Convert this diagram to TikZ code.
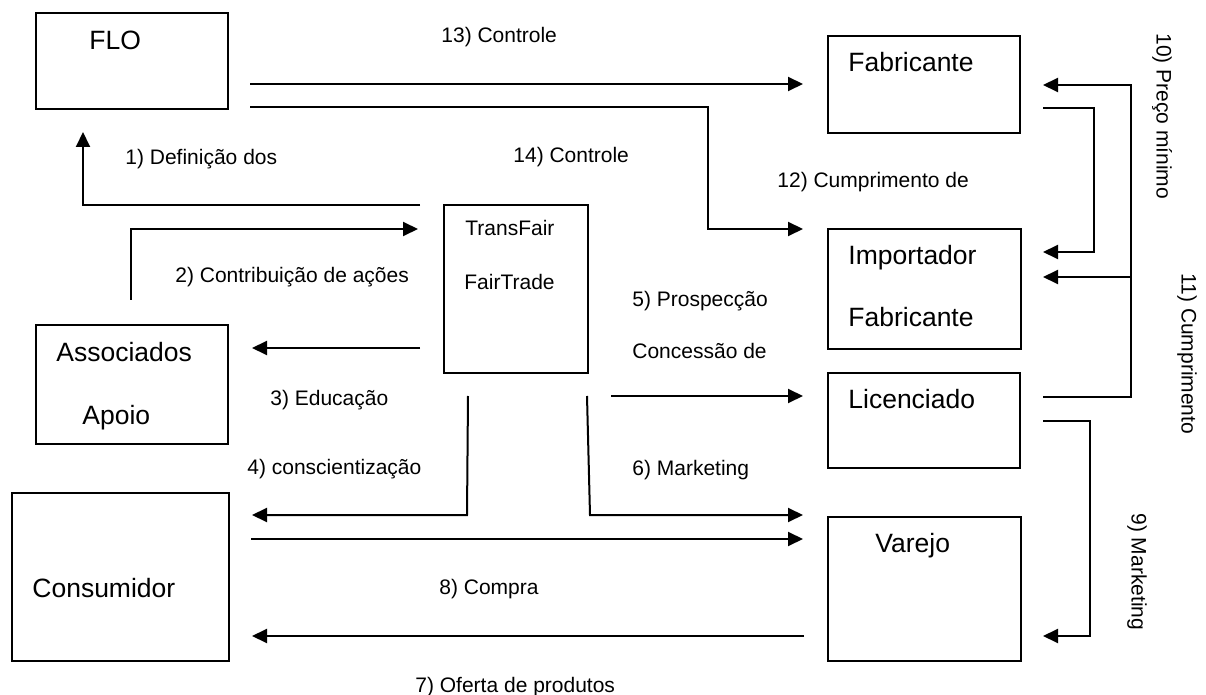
\documentclass[tikz,border=0pt]{standalone}
\usepackage{fontspec}
\setmainfont{Liberation Sans}
\usetikzlibrary{arrows.meta}
\begin{document}
\begin{tikzpicture}[x=0.5pt,y=-0.5pt,
  box/.style={draw,line width=1.1pt,rectangle,inner sep=0pt,anchor=north west},
  btext/.style={inner sep=0pt,anchor=base west,font=\fontsize{13.25}{15}\selectfont},
  ltext/.style={inner sep=0pt,anchor=base west,font=\fontsize{10.5}{12.5}\selectfont},
  rtext/.style={inner sep=0pt,anchor=west,rotate=-90,font=\fontsize{10.5}{12.5}\selectfont},
  conn/.style={line width=1pt,-{Triangle[length=7.5pt,width=7pt]}},
  plain/.style={line width=1pt}]
\useasboundingbox (0,0) rectangle (1206,695);
% boxes
\node[box,minimum width=96pt,minimum height=48pt] (flo) at (35,12) {};
\node[box,minimum width=96pt,minimum height=48.5pt] (fab) at (827,35) {};
\node[box,minimum width=96.5pt,minimum height=60pt] (imp) at (827,228) {};
\node[box,minimum width=96pt,minimum height=47.5pt] (lic) at (827,372) {};
\node[box,minimum width=96.5pt,minimum height=72pt] (var) at (827,516) {};
\node[box,minimum width=72pt,minimum height=84pt] (tf) at (443,204) {};
\node[box,minimum width=96pt,minimum height=59.5pt] (ass) at (35,324) {};
\node[box,minimum width=108.5pt,minimum height=84pt] (con) at (11,492) {};
% box texts
\node[btext] (tflo) at (89,49.5) {FLO};
\node[btext] (tfab) at (848,71.5) {Fabricante};
\node[btext] (timp) at (848,264.5) {Importador};
\node[btext] (timpfab) at (848,326.5) {Fabricante};
\node[btext] (tlic) at (848,408.5) {Licenciado};
\node[btext] (tvar) at (875,552.5) {Varejo};
\node[btext] (tass) at (56,361.5) {Associados};
\node[btext] (tapo) at (82,424.5) {Apoio};
\node[btext] (tcon) at (32,597.5) {Consumidor};
\node[ltext] (ttf1) at (465,235.5) {TransFair};
\node[ltext] (ttf2) at (464,289.5) {FairTrade};
% labels
\node[ltext] (l13) at (441,42.5) {13) Controle};
\node[ltext] (l14) at (513,162.5) {14) Controle};
\node[ltext] (l1) at (125,164.5) {1) Definição dos};
\node[ltext] (l12) at (777,187.5) {12) Cumprimento de};
\node[ltext] (l2) at (175,282.5) {2) Contribuição de ações};
\node[ltext] (l3) at (270,405.5) {3) Educação};
\node[ltext] (l4) at (247,474.5) {4) conscientização};
\node[ltext] (l5) at (632,306.5) {5) Prospecção};
\node[ltext] (l5b) at (632,358.5) {Concessão de};
\node[ltext] (l6) at (632,475.5) {6) Marketing};
\node[ltext] (l8) at (439,594.5) {8) Compra};
\node[ltext] (l7) at (415,692.5) {7) Oferta de produtos};
\node[rtext] (l10) at (1162,33) {10) Preço mínimo};
\node[rtext] (l11) at (1187,273) {11) Cumprimento};
\node[rtext] (l9) at (1137,513) {9) Marketing};
% connector end points
\coordinate (a13s) at (250,84);   \coordinate (a13e) at (803,84);
\coordinate (a14s) at (250,107);  \coordinate (a14e) at (803,229);
\coordinate (a1s) at (420,205);   \coordinate (a1e) at (83,132);
\coordinate (a2s) at (131,300);   \coordinate (a2e) at (418,229);
\coordinate (a3s) at (420,348);   \coordinate (a3e) at (252,348);
\coordinate (a4s) at (468,396);   \coordinate (a4e) at (252,515);
\coordinate (a5s) at (611,396);   \coordinate (a5e) at (803,396);
\coordinate (a6s) at (587,396);   \coordinate (a6e) at (803,515);
\coordinate (a8s) at (251,539);   \coordinate (a8e) at (803,539);
\coordinate (a7s) at (804,636);   \coordinate (a7e) at (252,636);
\coordinate (a9s) at (1043,421);  \coordinate (a9e) at (1043,636);
\coordinate (a10s) at (1043,108); \coordinate (a10e) at (1043,252);
\coordinate (a11s) at (1043,397); \coordinate (a11e) at (1043,85);
\coordinate (a11b) at (1043,277); \coordinate (a11j) at (1131,277);
% connectors
\draw[conn] (a13s) -- (a13e);
\draw[conn] (a14s) -- (708,107) -- (708,229) -- (a14e);
\draw[conn] (a1s) -- (83,205) -- (a1e);
\draw[conn] (a2s) -- (131,229) -- (a2e);
\draw[conn] (a3s) -- (a3e);
\draw[conn] (a4s) -- (467,515) -- (a4e);
\draw[conn] (a5s) -- (a5e);
\draw[conn] (a6s) -- (590,515) -- (a6e);
\draw[conn] (a8s) -- (a8e);
\draw[conn] (a7s) -- (a7e);
\draw[conn] (a9s) -- (1090,421) -- (1090,636) -- (a9e);
\draw[conn] (a10s) -- (1094,108) -- (1094,252) -- (a10e);
\draw[conn] (a11s) -- (1131,397) -- (1131,85) -- (a11e);
\draw[conn] (a11j) -- (a11b);
\end{tikzpicture}
\end{document}
